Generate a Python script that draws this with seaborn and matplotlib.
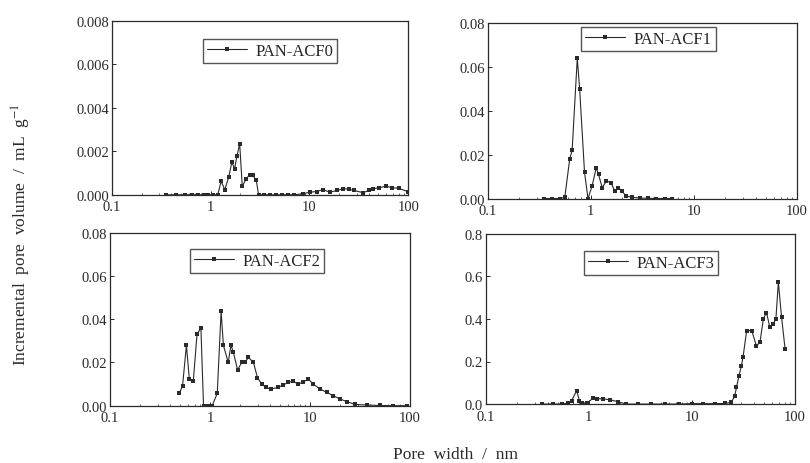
import numpy as np
import pandas as pd
import matplotlib
matplotlib.use("Agg")
import matplotlib.pyplot as plt
import seaborn as sns

# ---- data ----
acf0_x = [0.35, 0.45, 0.55, 0.65, 0.75, 0.85, 0.95, 1.05, 1.18, 1.28, 1.39, 1.53, 1.64, 1.75, 1.85, 1.97, 2.09,
          2.30, 2.48, 2.68, 2.90, 3.06, 3.5, 4.0, 4.6, 5.3, 6.1, 7.0, 8.6, 10.1, 11.8, 13.7, 16.1, 19.0,
          22.0, 25.0, 28.0, 35.0, 40.0, 44.0, 51.0, 59.0, 68.0, 80.0, 100.0]
acf0_y = [0, 0, 0, 0, 0, 0, 0, 0, 0, 0.00063, 0.00023, 0.00084, 0.0015, 0.0012, 0.0018, 0.00234, 0.0004,
          0.00074, 0.00092, 0.00089, 0.00066, 0.0, 0.0, 0.0, 0.0, 0.0, 0.0, 0.0, 0.00005, 0.00012, 0.00015, 0.00024,
          0.00012, 0.0002, 0.00028, 0.00026, 0.0002, 0.0001, 0.0002, 0.00028, 0.00032, 0.0004, 0.00033, 0.0003, 0.00014]

acf1_x = [0.35, 0.42, 0.50, 0.56, 0.625, 0.66, 0.74, 0.78, 0.87, 0.94, 1.03, 1.13, 1.19, 1.29, 1.42, 1.57,
          1.71, 1.85, 2.0, 2.2, 2.5, 3.0, 3.6, 4.3, 5.2, 6.2]
acf1_y = [0, 0, 0, 0.0005, 0.018, 0.022, 0.064, 0.050, 0.012, 0.0, 0.0057, 0.014, 0.011, 0.005, 0.008, 0.0072,
          0.0034, 0.005, 0.0034, 0.0012, 0.0006, 0.0002, 0.0001, 0.0, 0.0, 0.0]

acf2_x = [0.49, 0.53, 0.58, 0.62, 0.68, 0.74, 0.81, 0.86, 0.91, 0.98, 1.05, 1.18, 1.29, 1.36, 1.52, 1.62, 1.71,
          1.89, 2.07, 2.24, 2.42, 2.72, 2.98, 3.29, 3.63, 4.05, 4.82, 5.4, 6.06, 6.8, 7.6, 8.5, 9.6, 10.8,
          12.6, 14.7, 17.1, 20.0, 23.4, 28.2, 37.0, 50.0, 68.0, 93.0]
acf2_y = [0.0057, 0.009, 0.028, 0.0124, 0.0116, 0.033, 0.036, 0.0, 0.0, 0.0, 0.0, 0.0057, 0.0437, 0.028, 0.020,
          0.028, 0.0247, 0.0165, 0.020, 0.020, 0.0224, 0.020, 0.013, 0.010, 0.0085, 0.0077, 0.0085, 0.0096, 0.0108,
          0.0113, 0.010, 0.0108, 0.0124, 0.010, 0.0077, 0.0062, 0.0046, 0.0031, 0.0019, 0.0006, 0.0003, 0.0001,
          0.0, 0.0]

acf3_x = [0.35, 0.45, 0.55, 0.62, 0.68, 0.76, 0.81, 0.86, 0.95, 1.1, 1.2, 1.37, 1.6, 1.9, 2.3, 3.0, 4.0, 5.5,
          7.5, 10.0, 13.0, 17.0, 21.0, 24.3, 26.2, 27.2, 28.8, 30.4, 31.5, 34.2, 38.3, 42.5, 46.0, 49.7, 53.3,
          57.5, 62.0, 65.8, 69.5, 74.7, 80.8]
acf3_y = [0, 0, 0, 0.004, 0.016, 0.063, 0.016, 0.005, 0.004, 0.027, 0.025, 0.025, 0.02, 0.012, 0.0, 0.0, 0.0,
          0.0, 0.0, 0.002, 0.002, 0.002, 0.003, 0.008, 0.039, 0.078, 0.133, 0.18, 0.22, 0.345, 0.345, 0.274, 0.29,
          0.40, 0.43, 0.36, 0.376, 0.40, 0.573, 0.408, 0.259]

labels = ["PAN-ACF0", "PAN-ACF1", "PAN-ACF2", "PAN-ACF3"]
xs = [acf0_x, acf1_x, acf2_x, acf3_x]
ys = [acf0_y, acf1_y, acf2_y, acf3_y]
ymax = [0.008, 0.08, 0.08, 0.8]
yticks = [[0.000, 0.002, 0.004, 0.006, 0.008],
          [0.00, 0.02, 0.04, 0.06, 0.08],
          [0.00, 0.02, 0.04, 0.06, 0.08],
          [0.0, 0.2, 0.4, 0.6, 0.8]]
yfmt = ["{:.3f}", "{:.2f}", "{:.2f}", "{:.1f}"]
xticks = [0.1, 1, 10, 100]
xticklabels = ["0.1", "1", "10", "100"]

sns.set_theme(style="ticks")
plt.rcParams["font.family"] = ["Liberation Serif", "DejaVu Serif"]
plt.rcParams["mathtext.fontset"] = "stix"

fig = plt.figure(figsize=(8.10, 4.64), dpi=100)
rects = [
    [0.138, 0.578, 0.366, 0.375],
    [0.602, 0.570, 0.382, 0.378],
    [0.136, 0.1235, 0.370, 0.3725],
    [0.600, 0.127, 0.381, 0.367],
]
legend_pos = [(0.534, 0.897), (0.52, 0.977), (0.49, 0.907), (0.534, 0.90)]
ink = "#2a2a2a"
for i in range(4):
    ax = fig.add_axes(rects[i])
    df = pd.DataFrame({"x": xs[i], "y": ys[i]})
    sns.lineplot(data=df, x="x", y="y", ax=ax, sort=False, color=ink, lw=0.8,
                 marker="s", markersize=2.6, markeredgewidth=0, label=labels[i])
    ax.set_xscale("log")
    ax.set_xlim(0.1, 100)
    ax.set_ylim(0, ymax[i])
    ax.set_xticks(xticks)
    ax.set_xticklabels(xticklabels)
    ax.set_yticks(yticks[i])
    ax.set_yticklabels([yfmt[i].format(v) for v in yticks[i]])
    ax.tick_params(axis="both", which="major", direction="in", length=3, width=0.7,
                   labelsize=10.5, colors=ink)
    ax.tick_params(axis="x", which="major", pad=4)
    ax.tick_params(axis="y", which="major", pad=2)
    ax.tick_params(axis="x", which="minor", direction="in", length=1.8, width=0.5, colors=ink)
    ax.set_xlabel("")
    ax.set_ylabel("")
    for s in ax.spines.values():
        s.set_linewidth(0.9)
        s.set_color(ink)
    leg = ax.legend(loc="upper center", bbox_to_anchor=legend_pos[i], frameon=True,
                    fontsize=12, handlelength=2.4, handletextpad=0.5, borderpad=0.25,
                    fancybox=False, edgecolor=ink, borderaxespad=0)
    leg.get_frame().set_linewidth(1.0)

fig.text(0.027, 0.494, "Incremental  pore  volume  /  mL  g$^{-1}$", rotation=90,
         ha="center", va="center", fontsize=12.5, color=ink)
fig.text(0.562, 0.02, "Pore  width  /  nm", ha="center", va="center", fontsize=12.5, color=ink)

fig.savefig("out.png", dpi=100)
